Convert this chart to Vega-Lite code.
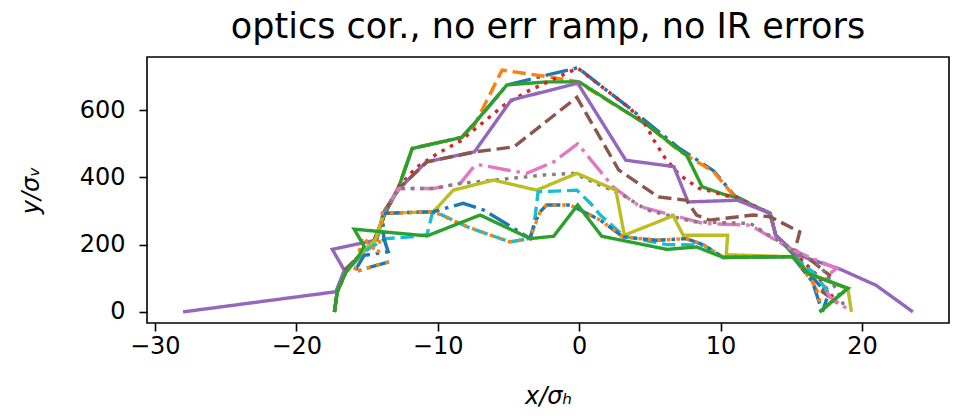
{
  "$schema": "https://vega.github.io/schema/vega-lite/v6.json",
  "autosize": {"type": "none"},
  "padding": {"left": 147, "top": 57, "right": 15, "bottom": 96},
  "width": 802,
  "height": 266,
  "title": {"text": "optics cor., no err ramp, no IR errors", "font": "DejaVu Sans", "fontSize": 35, "fontWeight": "normal", "color": "#000", "offset": 12},
  "datasets": {
    "lines": [
      {"s":"s00","i":0,"x":-17.3,"y":0},{"s":"s00","i":1,"x":-17.1,"y":60},{"s":"s00","i":2,"x":-16.5,"y":118},{"s":"s00","i":3,"x":-15.6,"y":165},{"s":"s00","i":4,"x":-14.5,"y":212},{"s":"s00","i":5,"x":-14.0,"y":263},{"s":"s00","i":6,"x":-13.6,"y":303},{"s":"s00","i":7,"x":-12.75,"y":372},{"s":"s00","i":8,"x":-11.8,"y":486},{"s":"s00","i":9,"x":-8.3,"y":519},{"s":"s00","i":10,"x":-7.5,"y":556},{"s":"s00","i":11,"x":-5.1,"y":675},{"s":"s00","i":12,"x":-2.3,"y":704},{"s":"s00","i":13,"x":-0.1,"y":726},{"s":"s00","i":14,"x":3.6,"y":605},{"s":"s00","i":15,"x":7.1,"y":486},{"s":"s00","i":16,"x":9.5,"y":420},{"s":"s00","i":17,"x":11.0,"y":345},{"s":"s00","i":18,"x":13.5,"y":293},{"s":"s00","i":19,"x":13.9,"y":228},{"s":"s00","i":20,"x":15.3,"y":172},{"s":"s00","i":21,"x":16.3,"y":112},{"s":"s00","i":22,"x":17.6,"y":50},{"s":"s00","i":23,"x":17.2,"y":0},

      {"s":"s01","i":0,"x":-17.3,"y":0},{"s":"s01","i":1,"x":-17.1,"y":60},{"s":"s01","i":2,"x":-16.5,"y":118},{"s":"s01","i":3,"x":-15.6,"y":165},{"s":"s01","i":4,"x":-14.5,"y":212},{"s":"s01","i":5,"x":-14.0,"y":263},{"s":"s01","i":6,"x":-13.6,"y":303},{"s":"s01","i":7,"x":-12.75,"y":372},{"s":"s01","i":8,"x":-11.8,"y":486},{"s":"s01","i":9,"x":-8.3,"y":519},{"s":"s01","i":10,"x":-7.45,"y":551},{"s":"s01","i":11,"x":-5.45,"y":719},{"s":"s01","i":12,"x":-2.3,"y":700},{"s":"s01","i":13,"x":-0.16,"y":685},{"s":"s01","i":14,"x":4.8,"y":556},{"s":"s01","i":15,"x":7.1,"y":478},{"s":"s01","i":16,"x":9.5,"y":417},{"s":"s01","i":17,"x":11.0,"y":342},{"s":"s01","i":18,"x":13.5,"y":293},{"s":"s01","i":19,"x":13.9,"y":228},{"s":"s01","i":20,"x":15.3,"y":172},{"s":"s01","i":21,"x":16.5,"y":89},{"s":"s01","i":22,"x":16.9,"y":55},{"s":"s01","i":23,"x":17.0,"y":25},

      {"s":"s02","i":0,"x":-17.3,"y":0},{"s":"s02","i":1,"x":-17.1,"y":60},{"s":"s02","i":2,"x":-16.5,"y":118},{"s":"s02","i":3,"x":-15.6,"y":165},{"s":"s02","i":4,"x":-14.5,"y":212},{"s":"s02","i":5,"x":-14.0,"y":263},{"s":"s02","i":6,"x":-13.6,"y":303},{"s":"s02","i":7,"x":-12.75,"y":372},{"s":"s02","i":8,"x":-11.8,"y":486},{"s":"s02","i":9,"x":-8.3,"y":519},{"s":"s02","i":10,"x":-7.5,"y":556},{"s":"s02","i":11,"x":-5.1,"y":675},{"s":"s02","i":12,"x":-2.3,"y":684},{"s":"s02","i":13,"x":0.0,"y":684},{"s":"s02","i":14,"x":4.8,"y":556},{"s":"s02","i":15,"x":7.1,"y":481},{"s":"s02","i":16,"x":7.6,"y":466},{"s":"s02","i":17,"x":8.7,"y":372},{"s":"s02","i":18,"x":10.2,"y":350},{"s":"s02","i":19,"x":11.1,"y":340},{"s":"s02","i":20,"x":13.5,"y":293},{"s":"s02","i":21,"x":13.9,"y":228},{"s":"s02","i":22,"x":15.2,"y":168},{"s":"s02","i":23,"x":16.2,"y":114},{"s":"s02","i":24,"x":19.0,"y":70},{"s":"s02","i":25,"x":17.0,"y":0},

      {"s":"s03","i":0,"x":-17.3,"y":0},{"s":"s03","i":1,"x":-17.1,"y":60},{"s":"s03","i":2,"x":-16.5,"y":118},{"s":"s03","i":3,"x":-15.6,"y":165},{"s":"s03","i":4,"x":-14.5,"y":212},{"s":"s03","i":5,"x":-14.0,"y":263},{"s":"s03","i":6,"x":-13.6,"y":303},{"s":"s03","i":7,"x":-12.75,"y":372},{"s":"s03","i":8,"x":-11.5,"y":430},{"s":"s03","i":9,"x":-10.0,"y":471},{"s":"s03","i":10,"x":-8.4,"y":508},{"s":"s03","i":11,"x":-5.3,"y":615},{"s":"s03","i":12,"x":-3.7,"y":655},{"s":"s03","i":13,"x":-0.1,"y":725},{"s":"s03","i":14,"x":3.6,"y":605},{"s":"s03","i":15,"x":4.8,"y":551},{"s":"s03","i":16,"x":5.2,"y":516},{"s":"s03","i":17,"x":6.1,"y":456},{"s":"s03","i":18,"x":7.1,"y":407},{"s":"s03","i":19,"x":8.5,"y":367},{"s":"s03","i":20,"x":9.5,"y":357},{"s":"s03","i":21,"x":10.2,"y":347},{"s":"s03","i":22,"x":11.1,"y":340},{"s":"s03","i":23,"x":13.5,"y":293},{"s":"s03","i":24,"x":13.9,"y":228},{"s":"s03","i":25,"x":15.3,"y":172},{"s":"s03","i":26,"x":16.8,"y":110},{"s":"s03","i":27,"x":18.0,"y":40},

      {"s":"s04","i":0,"x":-28.0,"y":0},{"s":"s04","i":1,"x":-17.2,"y":60},{"s":"s04","i":2,"x":-16.6,"y":124},{"s":"s04","i":3,"x":-17.45,"y":186},{"s":"s04","i":4,"x":-14.3,"y":214},{"s":"s04","i":5,"x":-13.8,"y":298},{"s":"s04","i":6,"x":-12.7,"y":367},{"s":"s04","i":7,"x":-10.8,"y":446},{"s":"s04","i":8,"x":-7.4,"y":476},{"s":"s04","i":9,"x":-4.8,"y":630},{"s":"s04","i":10,"x":-0.1,"y":680},{"s":"s04","i":11,"x":3.3,"y":451},{"s":"s04","i":12,"x":6.7,"y":432},{"s":"s04","i":13,"x":7.7,"y":327},{"s":"s04","i":14,"x":11.2,"y":332},{"s":"s04","i":15,"x":13.5,"y":293},{"s":"s04","i":16,"x":13.9,"y":228},{"s":"s04","i":17,"x":15.4,"y":170},{"s":"s04","i":18,"x":18.4,"y":128},{"s":"s04","i":19,"x":21.0,"y":79},{"s":"s04","i":20,"x":23.6,"y":0},

      {"s":"s05","i":0,"x":-16.6,"y":124},{"s":"s05","i":1,"x":-15.2,"y":180},{"s":"s05","i":2,"x":-14.3,"y":220},{"s":"s05","i":3,"x":-13.8,"y":298},{"s":"s05","i":4,"x":-12.75,"y":367},{"s":"s05","i":5,"x":-10.75,"y":446},{"s":"s05","i":6,"x":-7.34,"y":476},{"s":"s05","i":7,"x":-4.6,"y":491},{"s":"s05","i":8,"x":-0.16,"y":638},{"s":"s05","i":9,"x":2.8,"y":422},{"s":"s05","i":10,"x":5.6,"y":342},{"s":"s05","i":11,"x":7.6,"y":332},{"s":"s05","i":12,"x":8.3,"y":288},{"s":"s05","i":13,"x":9.2,"y":273},{"s":"s05","i":14,"x":12.3,"y":288},{"s":"s05","i":15,"x":13.5,"y":283},{"s":"s05","i":16,"x":15.6,"y":238},{"s":"s05","i":17,"x":15.25,"y":184},{"s":"s05","i":18,"x":16.5,"y":150},{"s":"s05","i":19,"x":17.7,"y":109},{"s":"s05","i":20,"x":17.2,"y":60},{"s":"s05","i":21,"x":18.3,"y":25},

      {"s":"s06","i":0,"x":-14.3,"y":220},{"s":"s06","i":1,"x":-13.8,"y":298},{"s":"s06","i":2,"x":-12.75,"y":367},{"s":"s06","i":3,"x":-10.3,"y":367},{"s":"s06","i":4,"x":-8.4,"y":382},{"s":"s06","i":5,"x":-7.46,"y":431},{"s":"s06","i":6,"x":-7.0,"y":437},{"s":"s06","i":7,"x":-5.1,"y":422},{"s":"s06","i":8,"x":-3.7,"y":412},{"s":"s06","i":9,"x":-1.8,"y":446},{"s":"s06","i":10,"x":-0.1,"y":500},{"s":"s06","i":11,"x":2.4,"y":372},{"s":"s06","i":12,"x":4.3,"y":313},{"s":"s06","i":13,"x":8.8,"y":263},{"s":"s06","i":14,"x":12.1,"y":258},{"s":"s06","i":15,"x":15.1,"y":184},{"s":"s06","i":16,"x":18.2,"y":129},{"s":"s06","i":17,"x":17.6,"y":110},{"s":"s06","i":18,"x":17.25,"y":84},{"s":"s06","i":19,"x":17.7,"y":45},{"s":"s06","i":20,"x":19.1,"y":5},

      {"s":"s07","i":0,"x":-14.3,"y":220},{"s":"s07","i":1,"x":-13.8,"y":298},{"s":"s07","i":2,"x":-12.75,"y":367},{"s":"s07","i":3,"x":-10.3,"y":367},{"s":"s07","i":4,"x":-8.4,"y":382},{"s":"s07","i":5,"x":-5.3,"y":395},{"s":"s07","i":6,"x":-2.5,"y":407},{"s":"s07","i":7,"x":-0.4,"y":412},{"s":"s07","i":8,"x":3.1,"y":347},{"s":"s07","i":9,"x":4.8,"y":303},{"s":"s07","i":10,"x":8.1,"y":268},{"s":"s07","i":11,"x":12.1,"y":263},{"s":"s07","i":12,"x":15.1,"y":184},{"s":"s07","i":13,"x":17.0,"y":140},{"s":"s07","i":14,"x":18.3,"y":60},{"s":"s07","i":15,"x":18.8,"y":10},

      {"s":"s08","i":0,"x":-15.6,"y":165},{"s":"s08","i":1,"x":-14.4,"y":215},{"s":"s08","i":2,"x":-13.8,"y":293},{"s":"s08","i":3,"x":-10.3,"y":298},{"s":"s08","i":4,"x":-8.9,"y":362},{"s":"s08","i":5,"x":-6.05,"y":392},{"s":"s08","i":6,"x":-3.0,"y":362},{"s":"s08","i":7,"x":-0.16,"y":412},{"s":"s08","i":8,"x":2.6,"y":362},{"s":"s08","i":9,"x":3.2,"y":228},{"s":"s08","i":10,"x":6.65,"y":286},{"s":"s08","i":11,"x":7.36,"y":228},{"s":"s08","i":12,"x":10.5,"y":228},{"s":"s08","i":13,"x":10.4,"y":170},{"s":"s08","i":14,"x":15.1,"y":164},{"s":"s08","i":15,"x":16.2,"y":114},{"s":"s08","i":16,"x":19.0,"y":70},{"s":"s08","i":17,"x":19.25,"y":0},

      {"s":"s09","i":0,"x":-16.0,"y":140},{"s":"s09","i":1,"x":-15.2,"y":179},{"s":"s09","i":2,"x":-13.9,"y":213},{"s":"s09","i":3,"x":-13.6,"y":218},{"s":"s09","i":4,"x":-11.9,"y":223},{"s":"s09","i":5,"x":-10.75,"y":230},{"s":"s09","i":6,"x":-10.4,"y":290},{"s":"s09","i":7,"x":-10.2,"y":298},{"s":"s09","i":8,"x":-7.9,"y":253},{"s":"s09","i":9,"x":-4.9,"y":208},{"s":"s09","i":10,"x":-3.5,"y":218},{"s":"s09","i":11,"x":-3.2,"y":253},{"s":"s09","i":12,"x":-2.9,"y":357},{"s":"s09","i":13,"x":-0.16,"y":362},{"s":"s09","i":14,"x":0.8,"y":323},{"s":"s09","i":15,"x":1.5,"y":288},{"s":"s09","i":16,"x":2.7,"y":243},{"s":"s09","i":17,"x":3.2,"y":225},{"s":"s09","i":18,"x":6.2,"y":200},{"s":"s09","i":19,"x":8.8,"y":199},{"s":"s09","i":20,"x":10.2,"y":162},{"s":"s09","i":21,"x":15.1,"y":164},{"s":"s09","i":22,"x":16.5,"y":120},{"s":"s09","i":23,"x":17.6,"y":60},

      {"s":"s10","i":0,"x":-13.45,"y":149},{"s":"s10","i":1,"x":-15.9,"y":119},{"s":"s10","i":2,"x":-15.2,"y":168},{"s":"s10","i":3,"x":-13.5,"y":179},{"s":"s10","i":4,"x":-13.8,"y":218},{"s":"s10","i":5,"x":-13.9,"y":293},{"s":"s10","i":6,"x":-10.3,"y":298},{"s":"s10","i":7,"x":-8.2,"y":323},{"s":"s10","i":8,"x":-6.75,"y":303},{"s":"s10","i":9,"x":-4.4,"y":243},{"s":"s10","i":10,"x":-3.46,"y":218},{"s":"s10","i":11,"x":-3.2,"y":258},{"s":"s10","i":12,"x":-2.75,"y":298},{"s":"s10","i":13,"x":-2.3,"y":318},{"s":"s10","i":14,"x":-0.64,"y":318},{"s":"s10","i":15,"x":1.5,"y":273},{"s":"s10","i":16,"x":3.1,"y":223},{"s":"s10","i":17,"x":5.5,"y":213},{"s":"s10","i":18,"x":7.6,"y":218},{"s":"s10","i":19,"x":8.8,"y":199},{"s":"s10","i":20,"x":10.2,"y":162},{"s":"s10","i":21,"x":15.1,"y":164},{"s":"s10","i":22,"x":16.5,"y":89},{"s":"s10","i":23,"x":17.0,"y":25},

      {"s":"s11","i":0,"x":-13.45,"y":149},{"s":"s11","i":1,"x":-15.9,"y":119},{"s":"s11","i":2,"x":-15.3,"y":223},{"s":"s11","i":3,"x":-14.2,"y":174},{"s":"s11","i":4,"x":-13.9,"y":293},{"s":"s11","i":5,"x":-10.3,"y":298},{"s":"s11","i":6,"x":-7.9,"y":253},{"s":"s11","i":7,"x":-4.9,"y":208},{"s":"s11","i":8,"x":-3.5,"y":218},{"s":"s11","i":9,"x":-2.75,"y":298},{"s":"s11","i":10,"x":-2.3,"y":318},{"s":"s11","i":11,"x":-0.64,"y":318},{"s":"s11","i":12,"x":1.5,"y":273},{"s":"s11","i":13,"x":3.1,"y":223},{"s":"s11","i":14,"x":5.5,"y":213},{"s":"s11","i":15,"x":7.6,"y":218},{"s":"s11","i":16,"x":8.8,"y":199},{"s":"s11","i":17,"x":10.2,"y":162},{"s":"s11","i":18,"x":15.1,"y":164},{"s":"s11","i":19,"x":16.5,"y":89},{"s":"s11","i":20,"x":16.9,"y":55},{"s":"s11","i":21,"x":17.0,"y":25},

      {"s":"s12","i":0,"x":-17.3,"y":0},{"s":"s12","i":1,"x":-17.1,"y":60},{"s":"s12","i":2,"x":-16.5,"y":118},{"s":"s12","i":3,"x":-15.6,"y":165},{"s":"s12","i":4,"x":-15.2,"y":195},{"s":"s12","i":5,"x":-15.9,"y":246},{"s":"s12","i":6,"x":-10.75,"y":226},{"s":"s12","i":7,"x":-7.0,"y":288},{"s":"s12","i":8,"x":-3.46,"y":218},{"s":"s12","i":9,"x":-1.8,"y":225},{"s":"s12","i":10,"x":-0.1,"y":318},{"s":"s12","i":11,"x":1.6,"y":225},{"s":"s12","i":12,"x":6.2,"y":186},{"s":"s12","i":13,"x":8.3,"y":193},{"s":"s12","i":14,"x":10.2,"y":162},{"s":"s12","i":15,"x":15.1,"y":164},{"s":"s12","i":16,"x":16.2,"y":114},{"s":"s12","i":17,"x":19.0,"y":70},{"s":"s12","i":18,"x":17.0,"y":0}
    ]
  },
  "data": {"name": "lines"},
  "mark": {"type": "line", "strokeWidth": 3.4, "clip": true},
  "encoding": {
    "x": {"field": "x", "type": "quantitative", "scale": {"domain": [-30.55, 26.15], "nice": false, "zero": false}, "axis": {"values": [-30, -20, -10, 0, 10, 20], "title": "x/σₕ", "titlePadding": 26, "labelPadding": 3}},
    "y": {"field": "y", "type": "quantitative", "scale": {"domain": [-33, 758], "nice": false, "zero": false}, "axis": {"values": [0, 200, 400, 600], "title": "y/σᵥ", "titlePadding": 36, "labelPadding": 14}},
    "color": {"field": "s", "type": "nominal", "legend": null, "scale": {"domain": ["s00","s01","s02","s03","s04","s05","s06","s07","s08","s09","s10","s11","s12"], "range": ["#1f77b4","#ff7f0e","#2ca02c","#d62728","#9467bd","#8c564b","#e377c2","#7f7f7f","#bcbd22","#17becf","#1f77b4","#ff7f0e","#2ca02c"]}},
    "strokeDash": {"field": "s", "type": "nominal", "legend": null, "scale": {"domain": ["s00","s01","s02","s03","s04","s05","s06","s07","s08","s09","s10","s11","s12"], "range": [[23,5.8,3.6,5.8],[13.3,5.8],[1,0],[3.6,5.9],[1,0],[13.3,5.8],[23,5.8,3.6,5.8],[3.6,5.9],[1,0],[13.3,5.8],[23,5.8,3.6,5.8],[3.6,5.9],[1,0]]}},
    "order": {"field": "i", "type": "quantitative"}
  },
  "config": {
    "view": {"stroke": "#000", "strokeWidth": 1.6},
    "axis": {"domain": false, "grid": false, "ticks": true, "tickSize": 8, "tickWidth": 1.6, "tickColor": "#000", "labelFont": "DejaVu Sans", "labelFontSize": 24, "labelColor": "#000", "labelPadding": 6, "titleFont": "DejaVu Sans", "titleFontSize": 24, "titleFontWeight": "normal", "titleFontStyle": "italic", "titleColor": "#000"}
  }
}
